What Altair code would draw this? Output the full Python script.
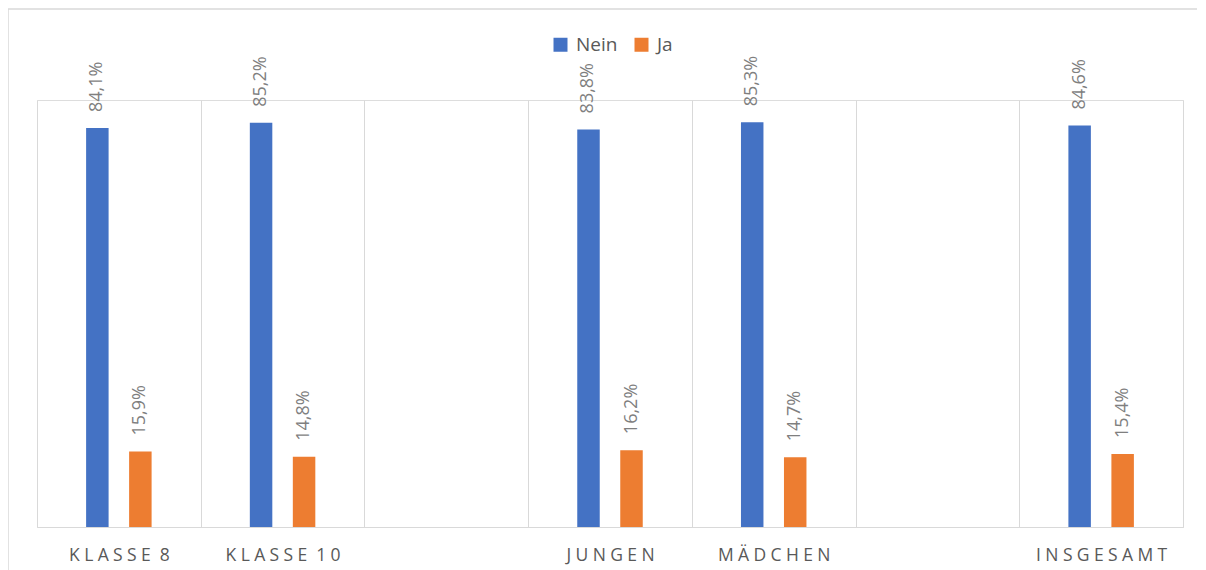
import altair as alt
import pandas as pd

categories = ["KLASSE 8", "KLASSE 10", "", "JUNGEN", "MÄDCHEN", "", "INSGESAMT"]
series = ["Nein", "Ja"]
nein = [84.1, 85.2, None, 83.8, 85.3, None, 84.6]
ja = [15.9, 14.8, None, 16.2, 14.7, None, 15.4]
colors = ["#4472C4", "#ED7D31"]

FONT = "Open Sans"
W, H = 1146, 427


def spaced(s):
    sp = "\u2005"
    return sp.join(list(s)).replace(sp + " " + sp, " " + sp)


domain = []
gap = 0
for c in categories:
    if c == "":
        gap += 1
        domain.append("\u200b" * gap)
    else:
        domain.append(spaced(c))

rows = []
for key, n, j in zip(domain, nein, ja):
    for s, v in zip(series, [n, j]):
        if v is not None:
            rows.append({"cat": key, "series": s, "value": v,
                         "label": f"{v:.1f}".replace(".", ",") + "%"})
df = pd.DataFrame(rows)

offset_domain = ["_l"] + series + ["_r"]

x = alt.X("cat:N", sort=domain,
          scale=alt.Scale(domain=domain, paddingInner=0, paddingOuter=0),
          axis=alt.Axis(title=None, ticks=False, grid=True, tickBand="extent",
                        gridColor="#d9d9d9", domainColor="#d9d9d9", labelAngle=0,
                        labelFont=FONT, labelFontSize=17.5, labelColor="#595959",
                        labelPadding=19))
xo = alt.XOffset("series:N",
                 scale=alt.Scale(domain=offset_domain, paddingInner=0.477, paddingOuter=0.142))
y = alt.Y("value:Q", scale=alt.Scale(domain=[0, 90]), axis=None)

bars = alt.Chart(df).mark_bar().encode(
    x=x, xOffset=xo, y=y,
    color=alt.Color("series:N", sort=series,
                    scale=alt.Scale(domain=series, range=colors),
                    legend=alt.Legend(title=None, orient="none", legendX=514, legendY=-65,
                                      direction="horizontal", symbolType="square",
                                      symbolSize=196, symbolStrokeWidth=0,
                                      labelFont=FONT, labelFontSize=19,
                                      labelColor="#595959", columnPadding=14,
                                      labelOffset=6)),
)

labels = alt.Chart(df).mark_text(
    angle=270, align="left", baseline="middle", dx=16,
    font=FONT, fontSize=18, color="#7f7f7f"
).encode(x=x, xOffset=xo, y=y, text="label:N")

frame = alt.Chart(alt.Data(values=[{}])).mark_rect(
    fillOpacity=0, stroke="#d9d9d9", strokeWidth=1.5
).encode(x=alt.value(-29), x2=alt.value(W + 60), y=alt.value(-91), y2=alt.value(H + 100))

chart = alt.layer(frame, bars, labels).properties(
    width=W, height=H,
    autosize=alt.AutoSizeParams(type="none"),
    padding={"left": 29, "top": 92, "right": 14, "bottom": 46},
).configure_view(stroke=None).configure(background="white")

chart.save("out.html", embed_options={"renderer": "svg", "actions": False})
